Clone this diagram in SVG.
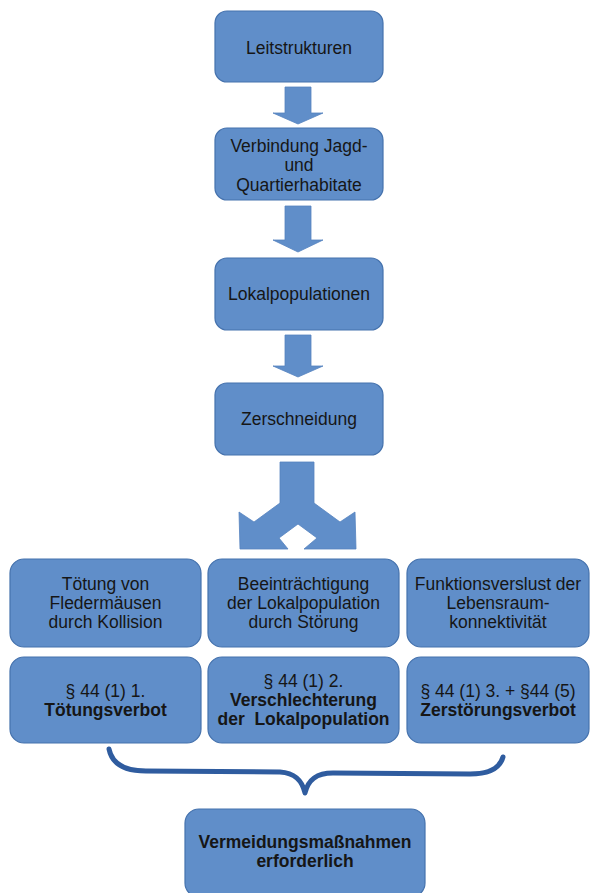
<svg xmlns="http://www.w3.org/2000/svg" width="590" height="893" viewBox="0 0 590 893">
<style>
.box{fill:#608ec9;stroke:#4572ad;stroke-width:1.2}
.arr{fill:#608ec9;stroke:#5683bf;stroke-width:0.8}
text{font-family:"Liberation Sans",Arial,sans-serif;font-size:17.5px;fill:#161616;text-anchor:middle}
.b{font-weight:bold}
.brace{fill:none;stroke:#2f5c9f;stroke-width:5;stroke-linecap:round;stroke-linejoin:round}
</style>
<rect width="590" height="893" fill="#ffffff"/>
<g id="connectors">
<polygon class="arr" points="285,87 311,87 311,113 323,113 298,124 273,113 285,113"/>
<polygon class="arr" points="285,206 311,206 311,240 323,240 298,252 273,240 285,240"/>
<polygon class="arr" points="285,335 311,335 311,366 323,366 298,377 273,366 285,366"/>
<polygon class="arr" points="280,462 314,462 314,503 340,522 355,512 356,549 304,549 317,538 298,524 279,538 288,549 240,549 239,512 254,522 280,503"/>
<path class="brace" d="M109,749 C112,764 124,771 146,771 L280,772 C295,773 302,780 305,793 C308,780 316,773 333,773 L470,774 C490,774 500,768 503,757"/>
</g>
<g id="n1"><rect class="box" x="215" y="11" width="168" height="71" rx="12"/><text x="299" y="54">Leitstrukturen</text></g>
<g id="n2"><rect class="box" x="215" y="128" width="168" height="72" rx="12"/><text x="299" y="152">Verbindung Jagd-</text><text x="299" y="171">und</text><text x="299" y="191">Quartierhabitate</text></g>
<g id="n3"><rect class="box" x="215" y="258" width="168" height="72" rx="12"/><text x="299" y="300">Lokalpopulationen</text></g>
<g id="n4"><rect class="box" x="215" y="383" width="168" height="72" rx="12"/><text x="299" y="425">Zerschneidung</text></g>
<g id="n5"><rect class="box" x="10" y="559" width="191" height="88" rx="14"/><text x="105.5" y="590">Tötung von</text><text x="105.5" y="609">Fledermäusen</text><text x="105.5" y="628">durch Kollision</text></g>
<g id="n6"><rect class="box" x="208" y="559" width="191" height="88" rx="14"/><text x="303.5" y="590">Beeinträchtigung</text><text x="303.5" y="609">der Lokalpopulation</text><text x="303.5" y="628">durch Störung</text></g>
<g id="n7"><rect class="box" x="407" y="559" width="182" height="88" rx="14"/><text x="498" y="590">Funktionsverslust der</text><text x="498" y="609">Lebensraum-</text><text x="498" y="628">konnektivität</text></g>
<g id="n8"><rect class="box" x="10" y="657" width="191" height="86" rx="14"/><text x="105.5" y="697">§ 44 (1) 1.</text><text class="b" x="105.5" y="716">Tötungsverbot</text></g>
<g id="n9"><rect class="box" x="208" y="657" width="191" height="86" rx="14"/><text x="303.5" y="687">§ 44 (1) 2.</text><text class="b" x="303.5" y="706">Verschlechterung</text><text class="b" x="303.5" y="725" style="white-space:pre">der  Lokalpopulation</text></g>
<g id="n10"><rect class="box" x="407" y="657" width="182" height="86" rx="14"/><text x="498" y="697">§ 44 (1) 3. + §44 (5)</text><text class="b" x="498" y="716">Zerstörungsverbot</text></g>
<g id="n11"><rect class="box" x="185" y="809" width="240" height="88" rx="14"/><text class="b" x="305" y="848">Vermeidungsmaßnahmen</text><text class="b" x="305" y="867">erforderlich</text></g>
</svg>
